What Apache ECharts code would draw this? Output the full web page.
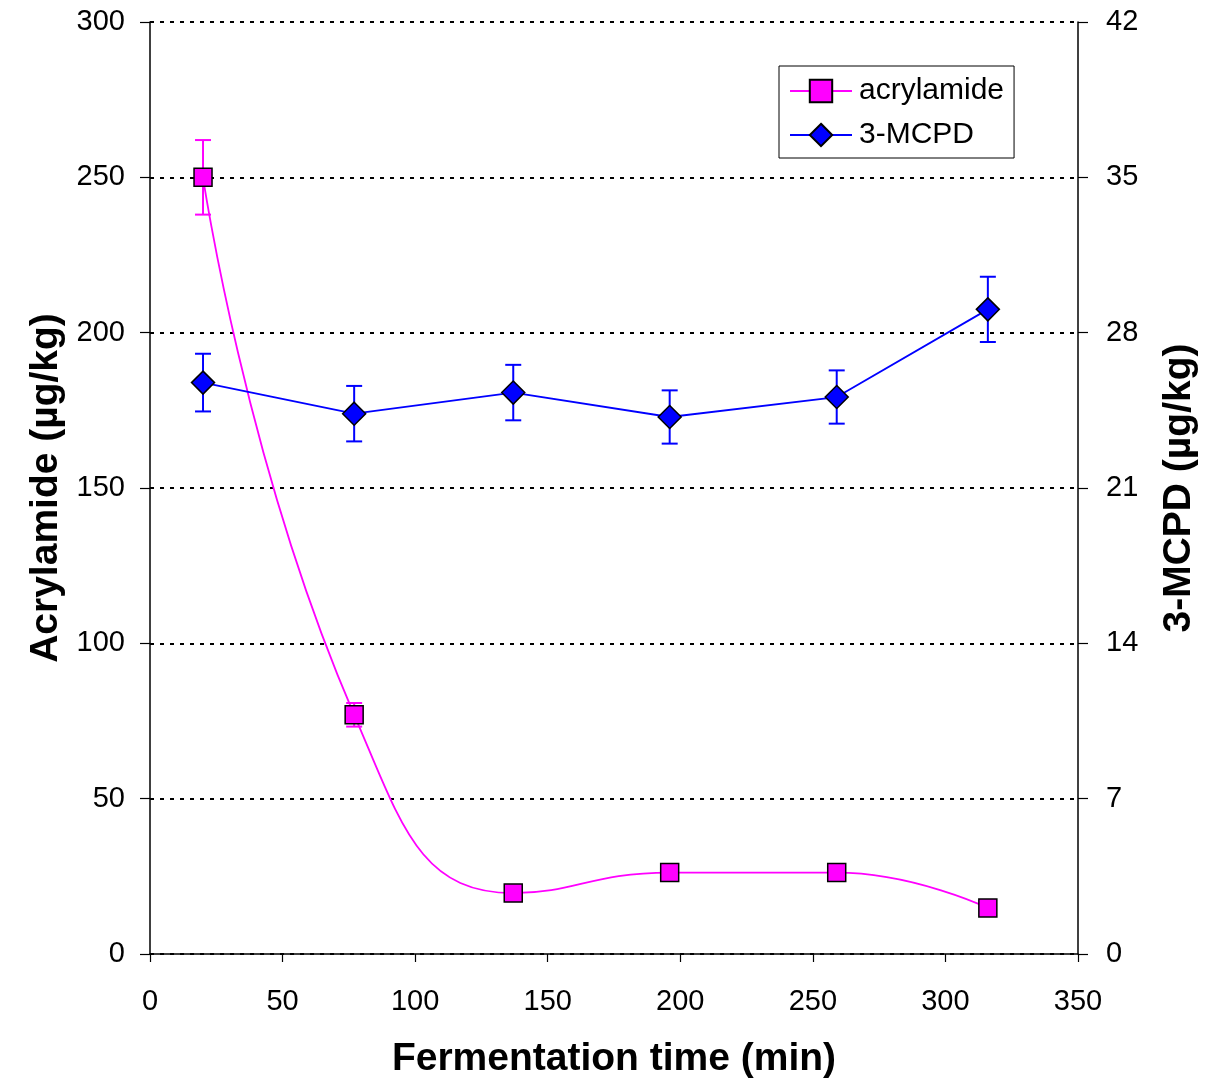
<!DOCTYPE html>
<html>
<head>
<meta charset="utf-8">
<script src="https://cdn.jsdelivr.net/npm/echarts@6/dist/echarts.min.js"></script>
<style>
html,body{margin:0;padding:0;background:#fff;}
#chart{width:1209px;height:1079px;}
</style>
</head>
<body>
<div id="chart"></div>
<script>
// Data
var timeMin = [20, 77, 137, 196, 259, 316];
var acrylamide = [250, 77, 19.6, 26.2, 26.2, 14.8];
var acrylamideErr = [12, 3.8, 1, 1, 1, 1];
var mcpd = [25.75, 24.35, 25.3, 24.2, 25.1, 29.05];
var mcpdErr = [1.3, 1.25, 1.25, 1.2, 1.2, 1.47];
var leftTicks = [0, 50, 100, 150, 200, 250, 300];
var rightTicks = [0, 7, 14, 21, 28, 35, 42];
var xTicks = [0, 50, 100, 150, 200, 250, 300, 350];

var FONT = 'Liberation Sans, Arial, sans-serif';

function pairs(xs, ys) { return xs.map(function (x, i) { return [x, ys[i]]; }); }
function errData(xs, ys, es) { return xs.map(function (x, i) { return [x, ys[i] - es[i], ys[i] + es[i]]; }); }

function errRender(color) {
  return function (params, api) {
    var x = api.value(0);
    var lo = api.coord([x, api.value(1)]);
    var hi = api.coord([x, api.value(2)]);
    var hw = 8;
    var st = { stroke: color, lineWidth: 2 };
    return {
      type: 'group',
      children: [
        { type: 'line', shape: { x1: lo[0], y1: lo[1], x2: hi[0], y2: hi[1] }, style: st },
        { type: 'line', shape: { x1: lo[0] - hw, y1: lo[1], x2: lo[0] + hw, y2: lo[1] }, style: st },
        { type: 'line', shape: { x1: hi[0] - hw, y1: hi[1], x2: hi[0] + hw, y2: hi[1] }, style: st }
      ]
    };
  };
}

var chart = echarts.init(document.getElementById('chart'), null, { renderer: 'canvas' });
var axisLine = { show: true, lineStyle: { color: '#000', width: 1.5 } };
var axisTick = { show: true, length: 10, lineStyle: { color: '#000', width: 1.2 } };
var axisLabel = { color: '#000', fontSize: 29, fontFamily: FONT };
var nameStyle = { color: '#000', fontSize: 39, fontWeight: 'bold', fontFamily: FONT };

chart.setOption({
  animation: false,
  backgroundColor: '#fff',
  grid: { left: 150, right: 131, top: 22, bottom: 125, containLabel: false, outerBoundsMode: 'none' },
  legend: {
    left: 779, top: 66,
    orient: 'vertical',
    backgroundColor: '#fff',
    borderColor: '#000', borderWidth: 1,
    padding: [10, 10, 8, 10],
    itemWidth: 62, itemHeight: 28, itemGap: 14,
    textStyle: { color: '#000', fontSize: 30, fontFamily: FONT, padding: [0, 0, 0, 2] },
    data: ['acrylamide', '3-MCPD']
  },
  xAxis: {
    type: 'value', min: 0, max: 350, interval: 50,
    name: 'Fermentation time (min)', nameLocation: 'middle', nameGap: 86,
    nameTextStyle: nameStyle,
    axisLine: axisLine, axisTick: { show: true, length: 8, lineStyle: { color: '#000', width: 1.2 } },
    axisLabel: Object.assign({ margin: 33, formatter: function (v) { return xTicks.indexOf(v) >= 0 ? String(v) : ''; } }, axisLabel),
    splitLine: { show: false }
  },
  yAxis: [{
    type: 'value', min: 0, max: 300, interval: 50, position: 'left',
    name: 'Acrylamide (µg/kg)', nameLocation: 'middle', nameGap: 79,
    nameTextStyle: nameStyle,
    axisLine: axisLine, axisTick: axisTick,
    axisLabel: Object.assign({ margin: 25, formatter: function (v) { return leftTicks.indexOf(v) >= 0 ? String(v) : ''; } }, axisLabel),
    splitLine: { show: true, lineStyle: { color: '#000', width: 2, type: [4, 6] } }
  }, {
    type: 'value', min: 0, max: 42, interval: 7, position: 'right',
    name: '3-MCPD (µg/kg)', nameLocation: 'middle', nameGap: 82, nameRotate: 90,
    nameTextStyle: nameStyle,
    axisLine: axisLine, axisTick: axisTick,
    axisLabel: Object.assign({ margin: 28, formatter: function (v) { return rightTicks.indexOf(v) >= 0 ? String(v) : ''; } }, axisLabel),
    splitLine: { show: false }
  }],
  series: [{
    name: 'acrylamide err', type: 'custom', yAxisIndex: 0, z: 1,
    renderItem: errRender('#FF00FF'),
    data: errData(timeMin, acrylamide, acrylamideErr), silent: true
  }, {
    name: '3-MCPD err', type: 'custom', yAxisIndex: 1, z: 1,
    renderItem: errRender('#0000FF'),
    data: errData(timeMin, mcpd, mcpdErr), silent: true
  }, {
    name: 'acrylamide', type: 'line', yAxisIndex: 0, z: 3,
    smooth: 0.5,
    data: pairs(timeMin, acrylamide),
    symbol: 'rect', symbolSize: 18,
    lineStyle: { color: '#FF00FF', width: 1.8 },
    itemStyle: { color: '#FF00FF', borderColor: '#000', borderWidth: 1.5 }
  }, {
    name: '3-MCPD', type: 'line', yAxisIndex: 1, z: 3,
    data: pairs(timeMin, mcpd),
    symbol: 'diamond', symbolSize: 23,
    lineStyle: { color: '#0000FF', width: 1.8 },
    itemStyle: { color: '#0000FF', borderColor: '#000', borderWidth: 1.5 }
  }]
});
</script>
</body>
</html>
